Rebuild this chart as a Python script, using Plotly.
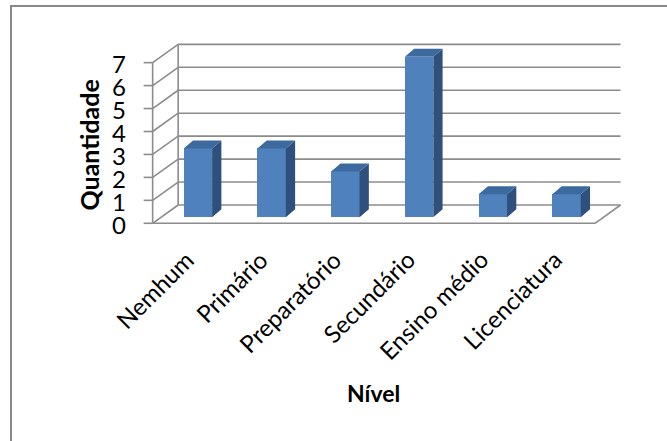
import plotly.graph_objects as go

categories = ["Nemhum", "Primário", "Preparatório", "Secundário", "Ensino médio", "Licenciatura"]
values = [3, 3, 2, 7, 1, 1]
y_ticks = [0, 1, 2, 3, 4, 5, 6, 7]
x_title = "Nível"
y_title = "Quantidade"

# pseudo-3D geometry (in axis units)
FX, FY = -0.114, -0.261   # front plane offset from bar plane
BX, BY = 0.232, 0.536     # back plane offset from bar plane
SX, SY = 0.126, 0.349     # bar depth
BW = 0.385                # bar width
n = len(categories)
ymax = max(y_ticks)

FRONT = "#4F81BD"
TOP = "#3D6A9E"
SIDE = "#2F507C"
GRID = "#8C8C8C"
FONT = "Lato"

fig = go.Figure()

shapes = []
def seg(x0, y0, x1, y1, color=GRID, w=1.6):
    shapes.append(dict(type="line", xref="x", yref="y", x0=x0, y0=y0, x1=x1, y1=y1,
                       line=dict(color=color, width=w), layer="below"))

left_f = -0.5 + FX
left_b = -0.5 + BX
right_f = n - 0.5 + FX
right_b = n - 0.5 + BX
for k in y_ticks:
    seg(left_b, k + BY, right_b, k + BY)          # back wall gridline
    seg(left_f, k + FY, left_b, k + BY)           # left wall gridline
    seg(left_f - 0.122, k + FY, left_f, k + FY)   # tick mark
seg(left_f, FY, left_f, ymax + FY)                # front vertical axis
seg(left_b, BY, left_b, ymax + BY)                # back vertical edge
seg(left_f, FY, right_f, FY)                      # floor front edge
seg(right_f, FY, right_b, BY)                     # floor right edge

# front faces
fig.add_trace(go.Bar(x=list(range(n)), y=values, width=BW, marker=dict(color=FRONT, line=dict(width=0)),
                     hoverinfo="skip", showlegend=False))

# side faces & top faces
sx, sy, tx, ty = [], [], [], []
for i, v in enumerate(values):
    r = i + BW / 2
    l = i - BW / 2
    sx += [r, r + SX, r + SX, r, r, None]
    sy += [0, SY, v + SY, v, 0, None]
    tx += [l, r, r + SX, l + SX, l, None]
    ty += [v, v, v + SY, v + SY, v, None]
fig.add_trace(go.Scatter(x=sx, y=sy, fill="toself", fillcolor=SIDE, mode="lines",
                         line=dict(width=0, color=SIDE), hoverinfo="skip", showlegend=False))
fig.add_trace(go.Scatter(x=tx, y=ty, fill="toself", fillcolor=TOP, mode="lines",
                         line=dict(width=0, color=TOP), hoverinfo="skip", showlegend=False))

annotations = []
for k in y_ticks:
    annotations.append(dict(x=left_f, y=k + FY, xref="x", yref="y", text=str(k), showarrow=False,
                            xanchor="right", yanchor="middle", xshift=-25, yshift=-1,
                            font=dict(family=FONT, size=24, color="black")))
for i, c in enumerate(categories):
    annotations.append(dict(x=i, y=(240 - 242) / 210, xref="x", yref="paper", text=c, showarrow=False,
                            textangle=-45, xanchor="right", yanchor="top", xshift=4,
                            font=dict(family=FONT, size=24, color="black")))
annotations.append(dict(x=(373 - 130) / 510, y=(240 - 393) / 210, xref="paper", yref="paper",
                        text="<b>" + x_title + "</b>", showarrow=False, xanchor="center", yanchor="middle",
                        font=dict(family=FONT, size=23, color="black")))
annotations.append(dict(x=(88 - 130) / 510, y=(240 - 145.5) / 210, xref="paper", yref="paper",
                        text="<b>" + y_title + "</b>", showarrow=False, textangle=-90,
                        xanchor="center", yanchor="middle",
                        font=dict(family=FONT, size=25, color="black")))

# chart area border
shapes.append(dict(type="rect", xref="paper", yref="paper",
                   x0=(11 - 130) / 510, y0=(240 - 6) / 210, x1=(700 - 130) / 510, y1=(240 - 480) / 210,
                   line=dict(color="#898989", width=2), fillcolor="rgba(0,0,0,0)", layer="below"))

fig.update_layout(
    width=667, height=441,
    margin=dict(l=130, r=27, t=30, b=201),
    paper_bgcolor="white", plot_bgcolor="white",
    xaxis=dict(range=[-0.921, 5.996], visible=False, fixedrange=True),
    yaxis=dict(range=[-0.989, 8.161], visible=False, fixedrange=True),
    shapes=shapes, annotations=annotations, bargap=0,
)

fig.write_html("out.html", config={"displayModeBar": False})
